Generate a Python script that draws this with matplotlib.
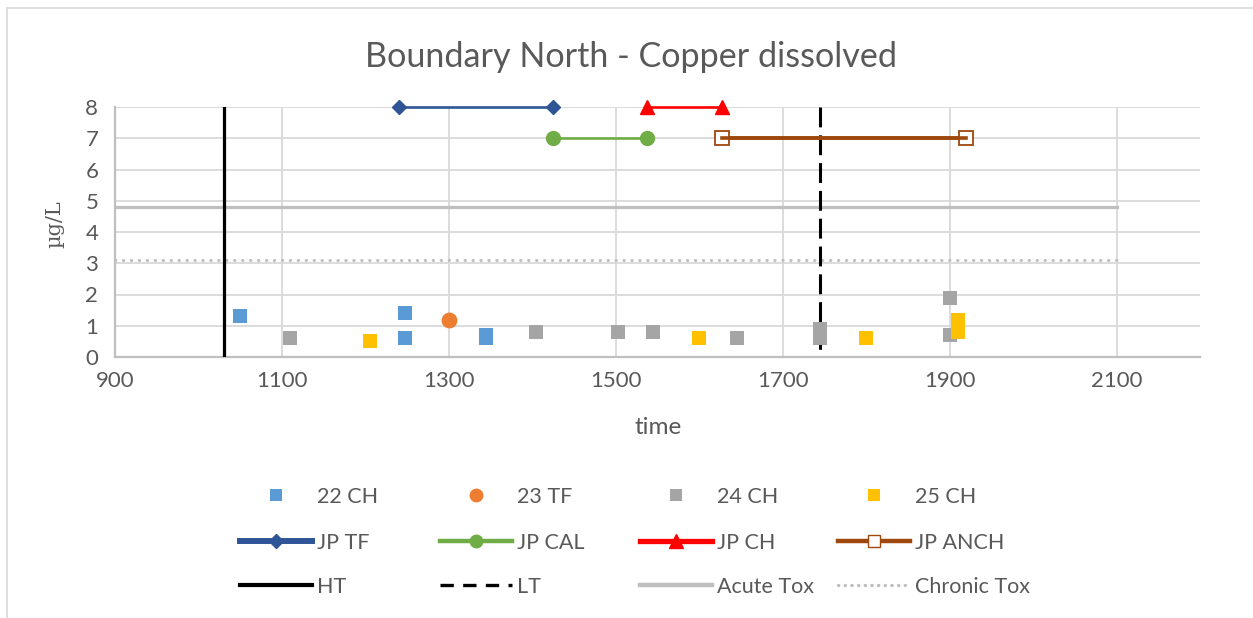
import matplotlib
matplotlib.use("Agg")
import matplotlib.pyplot as plt
from matplotlib.lines import Line2D

# --- sample data -------------------------------------------------------------
ch22_time = [1050, 1248, 1248, 1345, 1345]
ch22_val = [1.3, 1.4, 0.6, 0.6, 0.7]

tf23_time = [1300]
tf23_val = [1.2]

ch24_time = [1110, 1405, 1503, 1545, 1645, 1745, 1745, 1745, 1900, 1900]
ch24_val = [0.6, 0.8, 0.8, 0.8, 0.6, 0.6, 0.8, 0.9, 1.9, 0.7]

ch25_time = [1205, 1600, 1800, 1910, 1910, 1910]
ch25_val = [0.5, 0.6, 0.6, 0.8, 1.0, 1.2]

# --- reference periods and thresholds ----------------------------------------
jp_tf_time, jp_tf_val = [1240, 1425], [8, 8]
jp_cal_time, jp_cal_val = [1425, 1537], [7, 7]
jp_ch_time, jp_ch_val = [1537, 1627], [8, 8]
jp_anch_time, jp_anch_val = [1627, 1920], [7, 7]

ht_time, ht_val = [1030, 1030], [8, 0]
lt_time, lt_val = [1745, 1745], [8, 0]

acute_time, acute_val = [900, 2100], [4.8, 4.8]
chronic_time, chronic_val = [900, 2100], [3.1, 3.1]

x_ticks = [900, 1100, 1300, 1500, 1700, 1900, 2100]
y_ticks = [0, 1, 2, 3, 4, 5, 6, 7, 8]

TEXT = "#595959"
FONT = "Lato"

W, H = 1253, 618
fig = plt.figure(figsize=(W / 100, H / 100), dpi=100)
ax = fig.add_axes([115 / W, 1 - 357 / H, (1200 - 115) / W, (357 - 107) / H])

# chart border (left and top edges)
fig.add_artist(Line2D([7 / W, 7 / W], [0, 1 - 8 / H], color="#D9D9D9", lw=1.2))
fig.add_artist(Line2D([7 / W, 1], [1 - 8 / H, 1 - 8 / H], color="#D9D9D9", lw=1.2))

# threshold lines
ax.plot(acute_time, acute_val, color="#BFBFBF", lw=2.3, zorder=2)
ax.plot(chronic_time, chronic_val, color="#BFBFBF", lw=2.2,
        linestyle=(0, (0.1, 2.5)), dash_capstyle="round", zorder=2)
ax.plot(ht_time, ht_val, color="black", lw=2.3, zorder=3)
ax.plot(lt_time, lt_val, color="black", lw=2.2,
        linestyle=(0, (6.5, 2.6)), zorder=3)

# JP periods
ax.plot(jp_tf_time, jp_tf_val, color="#2F5597", lw=1.9, marker="D",
        markersize=7, zorder=4, clip_on=False)
ax.plot(jp_cal_time, jp_cal_val, color="#70AD47", lw=1.9, marker="o",
        markersize=10, zorder=4, clip_on=False)
ax.plot(jp_ch_time, jp_ch_val, color="#FF0000", lw=1.9, marker="^",
        markersize=10, zorder=4, clip_on=False)
ax.plot(jp_anch_time, jp_anch_val, color="#9E480E", lw=2.6, marker="s",
        markersize=10, markerfacecolor="white", markeredgecolor="#9E480E",
        markeredgewidth=1.3, zorder=4, clip_on=False)
ax.plot(jp_anch_time, jp_anch_val, color="#9E480E", lw=2.6, zorder=5)

# sample points
ax.scatter(ch22_time, ch22_val, marker="s", s=100, color="#5B9BD5",
           linewidths=0, zorder=6)
ax.scatter(tf23_time, tf23_val, marker="o", s=130, color="#ED7D31",
           linewidths=0, zorder=6)
ax.scatter(ch24_time, ch24_val, marker="s", s=100, color="#A5A5A5",
           linewidths=0, zorder=6)
ax.scatter(ch25_time, ch25_val, marker="s", s=100, color="#FFC000",
           linewidths=0, zorder=6)

ax.set_xlim(900, 2200)
ax.set_ylim(0, 8)
ax.set_xticks(x_ticks)
ax.set_yticks(y_ticks)
ax.grid(True, color="#D9D9D9", lw=1.3, zorder=0)
ax.set_axisbelow(True)
for side in ("top", "right"):
    ax.spines[side].set_visible(False)
for side in ("left", "bottom"):
    ax.spines[side].set_color("#BFBFBF")
    ax.spines[side].set_linewidth(1.6)
ax.tick_params(length=0, labelsize=16, labelcolor=TEXT)
ax.tick_params(axis="x", pad=10)
ax.tick_params(axis="y", pad=12)
for lbl in ax.get_xticklabels() + ax.get_yticklabels():
    lbl.set_fontfamily(FONT)

fig.text(631 / W, 1 - 67 / H, "Boundary North - Copper dissolved",
         fontsize=24.6, color=TEXT, fontfamily=FONT, ha="center", va="baseline")
fig.text(658 / W, 1 - 427 / H, "time", fontsize=17.5, color=TEXT,
         fontfamily=FONT, ha="center", va="center")
fig.text(55 / W, 1 - 224 / H, "µg/L", fontsize=15, color=TEXT,
         fontfamily="DejaVu Serif", rotation=90, ha="center", va="center")

# legend entries, each placed individually
LEG_SIZE = 15.5
LEG_PX = LEG_SIZE * 100 / 72


def mk(marker, color, size):
    return Line2D([], [], linestyle="none", marker=marker, color=color,
                  markersize=size, markeredgewidth=0)


def ln(color, lw, **kw):
    return Line2D([], [], color=color, lw=lw, **kw)


entries = [
    (mk("s", "#5B9BD5", 9), "22 CH", 240, 497),
    (mk("o", "#ED7D31", 10), "23 TF", 440, 497),
    (mk("s", "#A5A5A5", 9), "24 CH", 640, 497),
    (mk("s", "#FFC000", 9), "25 CH", 838, 497),
    (ln("#2F5597", 4.3, marker="D", markersize=7), "JP TF", 240, 543),
    (ln("#70AD47", 3.2, marker="o", markersize=9), "JP CAL", 440, 543),
    (ln("#FF0000", 3.8, marker="^", markersize=10), "JP CH", 640, 543),
    (ln("#9E480E", 3.2, marker="s", markersize=9, markerfacecolor="white",
        markeredgecolor="#9E480E"), "JP ANCH", 838, 543),
    (ln("black", 3.0), "HT", 240, 587),
    (ln("black", 2.4, linestyle=(0, (4, 2.8))), "LT", 440, 587),
    (ln("#BFBFBF", 3.2), "Acute Tox", 640, 587),
    (ln("#BFBFBF", 2.4, linestyle=(0, (0.1, 1.9)), dash_capstyle="round"),
     "Chronic Tox", 838, 587),
]
for handle, label, x0, yc in entries:
    fig.legend([handle], [label], loc="center left",
               bbox_to_anchor=(x0 / W, 1 - yc / H), frameon=False,
               borderpad=0, borderaxespad=0, handlelength=72 / LEG_PX,
               handletextpad=5 / LEG_PX,
               prop={"family": FONT, "size": LEG_SIZE}, labelcolor=TEXT)

fig.savefig("out.png", dpi=100, facecolor="white")
